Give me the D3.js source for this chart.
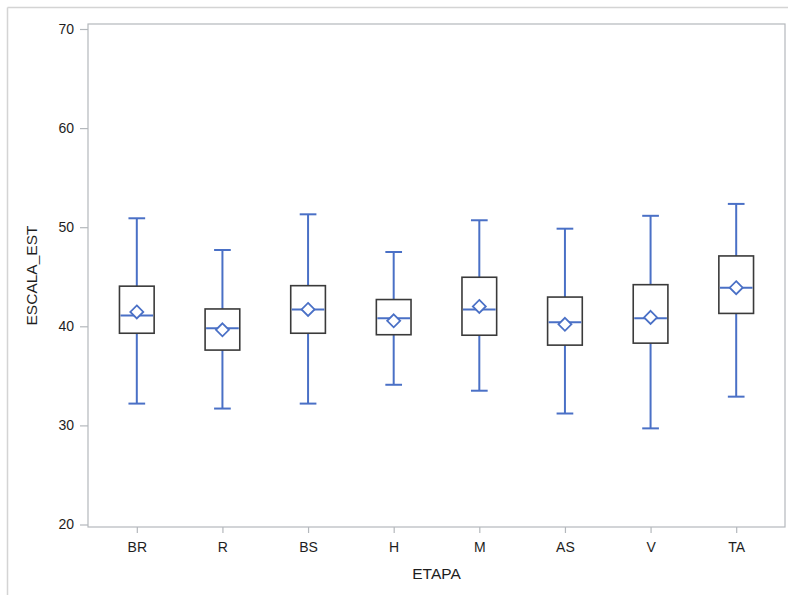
<!DOCTYPE html>
<html>
<head>
<meta charset="utf-8">
<script src="https://cdn.jsdelivr.net/npm/d3@7"></script>
<style>
  html, body { margin: 0; padding: 0; background: #fff; }
  svg { display: block; font-family: "Liberation Sans", Arial, sans-serif; }
</style>
</head>
<body>
<svg id="chart" width="788" height="595"></svg>
<script>
// Distribution of ESCALA_EST by ETAPA
const categories = ["BR", "R", "BS", "H", "M", "AS", "V", "TA"];
const whiskerLow  = [32.2, 31.7, 32.2, 34.1, 33.5, 31.2, 29.7, 32.9];
const q1          = [39.3, 37.6, 39.3, 39.15, 39.1, 38.1, 38.3, 41.3];
const median      = [41.1, 39.8, 41.7, 40.8, 41.7, 40.4, 40.8, 43.9];
const mean        = [41.45, 39.65, 41.7, 40.55, 42.0, 40.2, 40.9, 43.9];
const q3          = [44.05, 41.75, 44.1, 42.7, 44.95, 42.95, 44.2, 47.1];
const whiskerHigh = [50.9, 47.7, 51.3, 47.5, 50.7, 49.85, 51.15, 52.35];
const yTicks = [20, 30, 40, 50, 60, 70];

const stats = categories.map((c, i) => ({
  cat: c, lo: whiskerLow[i], q1: q1[i], med: median[i],
  mean: mean[i], q3: q3[i], hi: whiskerHigh[i]
}));

const svg = d3.select("#chart");
const frame = { left: 88, right: 785, top: 24, bottom: 527 };
const blue = "#4a70c6";
const textColor = "#1e1e1e";

// outer page border (top and left only)
svg.append("line").attr("x1", 7.5).attr("x2", 788).attr("y1", 7.5).attr("y2", 7.5)
  .attr("stroke", "#d4d4d4").attr("stroke-width", 1.5);
svg.append("line").attr("x1", 7.5).attr("x2", 7.5).attr("y1", 7.5).attr("y2", 595)
  .attr("stroke", "#d4d4d4").attr("stroke-width", 1.5);

const x = d3.scalePoint().domain(categories)
  .range([frame.left, frame.right]).padding(0.57);
const y = d3.scaleLinear().domain([20, 70]).range([524.5, 29]);

// plot frame
svg.append("rect")
  .attr("x", frame.left).attr("y", frame.top)
  .attr("width", frame.right - frame.left).attr("height", frame.bottom - frame.top)
  .attr("fill", "none").attr("stroke", "#b4b8bc").attr("stroke-width", 1.2);

// y axis
const yAxis = svg.append("g").attr("transform", `translate(${frame.left},0)`)
  .call(d3.axisLeft(y).tickValues(yTicks).tickSize(8).tickPadding(6).tickSizeOuter(0));
yAxis.select(".domain").remove();
yAxis.selectAll(".tick line").attr("stroke", "#b4b8bc").attr("stroke-width", 1.2);
yAxis.selectAll(".tick text").attr("font-size", 14).attr("fill", textColor)
  .attr("font-family", "Liberation Sans, Arial, sans-serif");

// x axis
const xAxis = svg.append("g").attr("transform", `translate(0,${frame.bottom})`)
  .call(d3.axisBottom(x).tickSize(6).tickPadding(9).tickSizeOuter(0));
xAxis.select(".domain").remove();
xAxis.selectAll(".tick line").attr("stroke", "#b4b8bc").attr("stroke-width", 1.2);
xAxis.selectAll(".tick text").attr("font-size", 14).attr("fill", textColor)
  .attr("font-family", "Liberation Sans, Arial, sans-serif");

// axis titles
svg.append("text").attr("x", (frame.left + frame.right) / 2).attr("y", 579)
  .attr("text-anchor", "middle").attr("font-size", 15.5).attr("fill", textColor).text("ETAPA");
svg.append("text")
  .attr("transform", `translate(37,${(frame.top + frame.bottom) / 2}) rotate(-90)`)
  .attr("text-anchor", "middle").attr("font-size", 15.5).attr("fill", textColor).text("ESCALA_EST");

// boxes
const boxW = x.step() * 0.405;
const capW = x.step() * 0.195;
const g = svg.append("g").selectAll("g").data(stats).join("g")
  .attr("transform", d => `translate(${x(d.cat)},0)`);

// whiskers
g.append("line").attr("x1", 0).attr("x2", 0)
  .attr("y1", d => y(d.hi)).attr("y2", d => y(d.q3))
  .attr("stroke", blue).attr("stroke-width", 2);
g.append("line").attr("x1", 0).attr("x2", 0)
  .attr("y1", d => y(d.q1)).attr("y2", d => y(d.lo))
  .attr("stroke", blue).attr("stroke-width", 2);
g.append("line").attr("x1", -capW / 2).attr("x2", capW / 2)
  .attr("y1", d => y(d.hi)).attr("y2", d => y(d.hi))
  .attr("stroke", blue).attr("stroke-width", 2);
g.append("line").attr("x1", -capW / 2).attr("x2", capW / 2)
  .attr("y1", d => y(d.lo)).attr("y2", d => y(d.lo))
  .attr("stroke", blue).attr("stroke-width", 2);

// box body
g.append("rect").attr("x", -boxW / 2).attr("width", boxW)
  .attr("y", d => y(d.q3)).attr("height", d => y(d.q1) - y(d.q3))
  .attr("fill", "#fff").attr("stroke", "#3a3a3a").attr("stroke-width", 1.6);

// median
g.append("line").attr("x1", -boxW / 2 + 1).attr("x2", boxW / 2 - 1)
  .attr("y1", d => y(d.med)).attr("y2", d => y(d.med))
  .attr("stroke", blue).attr("stroke-width", 2);

// mean marker
const dm = 6.5;
g.append("path")
  .attr("d", d => {
    const cy = y(d.mean);
    return `M0,${cy - dm}L${dm},${cy}L0,${cy + dm}L${-dm},${cy}Z`;
  })
  .attr("fill", "#fff").attr("stroke", blue).attr("stroke-width", 1.8);
</script>
</body>
</html>
